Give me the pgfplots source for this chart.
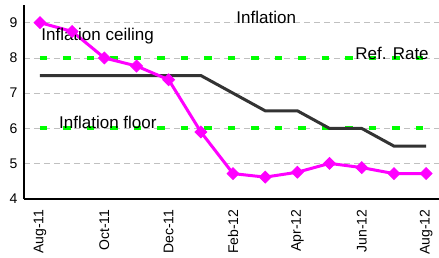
\documentclass[border=0pt]{standalone}
\usepackage{pgfplots}
\usepackage{pgfplotstable}
\pgfplotsset{compat=1.18}
\usepackage{fontspec}
\setmainfont{Liberation Sans}
\definecolor{mag}{HTML}{FF00FF}
\definecolor{grn}{HTML}{00FF00}
\definecolor{refc}{HTML}{333333}
\definecolor{grd}{HTML}{C0C0C0}
\pgfplotstableread{
m infl ref ceil floor
0 9.00 7.5 8 6
1 8.75 7.5 8 6
2 8.00 7.5 8 6
3 7.77 7.5 8 6
4 7.38 7.5 8 6
5 5.90 7.5 8 6
6 4.72 7.0 8 6
7 4.62 6.5 8 6
8 4.76 6.5 8 6
9 5.01 6.0 8 6
10 4.89 6.0 8 6
11 4.72 5.5 8 6
12 4.72 5.5 8 6
}\datatable
\begin{document}
\begin{tikzpicture}
\begin{axis}[
 at={(0,0)}, anchor=south west,
 scale only axis, width=415bp, height=194bp,
 xmin=-0.497, xmax=12.4, ymin=4, ymax=9.5,
 axis x line*=bottom, axis y line*=left,
 axis line style={black, line width=2bp, -},
 ytick={4,5,6,7,8,9},
 xtick={0,2,4,6,8,10,12},
 xticklabels={Aug-11,Oct-11,Dec-11,Feb-12,Apr-12,Jun-12,Aug-12},
 x tick label style={rotate=90, anchor=east},
 xticklabel shift=7bp,
 yticklabel shift=3bp,
 major tick length=0pt,
 ymajorgrids, grid style={grd, dash pattern=on 6bp off 4bp, line width=0.8bp},
 tick label style={font=\fontsize{14bp}{16bp}\selectfont},
 /pgf/number format/assume math mode=true,
 clip=false,
]
\addplot[grn, line width=4bp, dash pattern=on 7.5bp off 16bp, no marks] table[x=m, y=ceil] {\datatable};
\addplot[grn, line width=4bp, dash pattern=on 7.5bp off 16bp, no marks] table[x=m, y=floor] {\datatable};
\addplot[refc, line width=3bp, no marks] table[x=m, y=ref] {\datatable};
\addplot[mag, line width=3bp, mark=square*, mark size=4.2bp, mark options={solid, fill=mag, line width=0.8bp, rotate=45}] table[x=m, y=infl] {\datatable};
\node[font=\fontsize{17bp}{19bp}\selectfont] at (axis cs:7.03,9.14) {Inflation};
\node[font=\fontsize{17bp}{19bp}\selectfont] at (axis cs:1.79,8.63) {Inflation ceiling};
\node[font=\fontsize{17bp}{19bp}\selectfont] at (axis cs:10.94,8.12) {Ref. Rate};
\node[font=\fontsize{17bp}{19bp}\selectfont] at (axis cs:2.11,6.16) {Inflation floor};
\end{axis}
\pgfresetboundingbox
\path (-24bp,-59bp) rectangle (415bp,199bp);
\end{tikzpicture}
\end{document}
